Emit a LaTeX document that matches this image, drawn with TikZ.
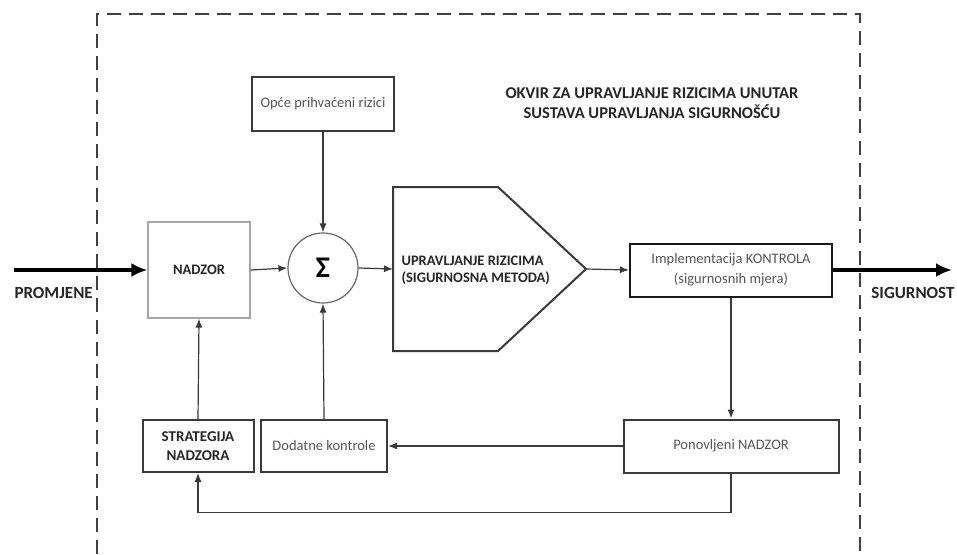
\documentclass[tikz,border=0pt]{standalone}
\usepackage{fontspec}
\setmainfont{Carlito}
\usetikzlibrary{arrows.meta}
\definecolor{linegray}{HTML}{3A3A3A}
\definecolor{textgray}{HTML}{555555}
\tikzset{
  blok/.style={draw=linegray, line width=2pt, rectangle, align=center, inner sep=0pt,
    font=\fontsize{14.5}{20}\selectfont, text=textgray},
  naslov/.style={font=\fontsize{14.5}{19}\selectfont\bfseries, text=black!85, align=center},
  veza/.style={draw=linegray, line width=1.2pt, -{Latex[length=9pt,width=7pt]}},
  tok/.style={draw=black, line width=3.5pt, -{Latex[length=16pt,width=14pt]}},
}
\begin{document}
\begin{tikzpicture}[x=1pt, y=-1pt]
   \useasboundingbox (0,0) rectangle (957,554);
   % okvir
   \draw[gray!50!black, line width=2.5pt, dash pattern=on 14pt off 8pt] (97,554) -- (97,14) -- (860,14) -- (860,554);
   \node[naslov, font=\fontsize{16.5}{20}\selectfont\bfseries] (okvir) at (652,103) {OKVIR ZA UPRAVLJANJE RIZICIMA UNUTAR\\SUSTAVA UPRAVLJANJA SIGURNOŠĆU};
   % blokovi
   \node[blok, draw=gray!70, line width=1.2pt, minimum width=102pt, minimum height=96pt, text=black!85, font=\fontsize{14.5}{20}\selectfont\bfseries] (nadzor) at (199,270) {NADZOR};
   \node[draw=gray!80!black, line width=1.2pt, circle, minimum size=70pt, inner sep=0pt, font=\fontsize{30}{30}\selectfont\bfseries] (sigma) at (323,268) {Σ};
   \node[blok, minimum width=142pt, minimum height=54pt] (opce) at (323,104) {Opće prihvaćeni rizici};
   \coordinate (uprL) at (393,269);
   \coordinate (uprT) at (586,269);
   \draw[linegray, line width=2pt, line join=miter] (393,187) -- (498,187) -- (uprT) -- (498,351) -- (393,351) -- cycle;
   \node[naslov, font=\fontsize{14.5}{17}\selectfont\bfseries, anchor=west, align=left] (upr) at (398,270) {UPRAVLJANJE RIZICIMA\\(SIGURNOSNA METODA)};
   \node[blok, draw=black!90, minimum width=202pt, minimum height=53pt] (impl) at (731,270) {Implementacija KONTROLA\\(sigurnosnih mjera)};
   \node[blok, minimum width=215pt, minimum height=53pt] (ponov) at (731,446) {Ponovljeni NADZOR};
   \node[blok, minimum width=126pt, minimum height=52pt] (dodatne) at (324,446) {Dodatne kontrole};
   \node[blok, minimum width=111pt, minimum height=52pt, text=black!85, font=\fontsize{15}{19}\selectfont\bfseries] (strat) at (198,446) {STRATEGIJA\\NADZORA};
   % ulaz i izlaz
   \coordinate (ulaz) at (14,270);
   \coordinate (izlaz) at (952,270);
   \draw[tok] (ulaz) -- (nadzor.west);
   \draw[tok] (impl.east) -- (izlaz);
   \node[naslov, font=\fontsize{17}{20}\selectfont\bfseries, anchor=west] (promjene) at (11,293) {PROMJENE};
   \node[naslov, font=\fontsize{17}{20}\selectfont\bfseries, anchor=east] (sigurnost) at (958,293) {SIGURNOST};
   % veze
   \draw[veza] (nadzor.east) -- (sigma.west);
   \draw[veza] (opce.south) -- (sigma.north);
   \draw[veza] (sigma.east) -- (uprL);
   \draw[veza] (uprT) -- (impl.west);
   \draw[veza] (impl.south) -- (ponov.north);
   \draw[veza] (ponov.west) -- (dodatne.east);
   \draw[veza] (dodatne.north) -- (sigma.south);
   \draw[veza] (strat.north) -- (nadzor.south);
   \draw[veza] (ponov.south) -- ++(0,39) -| (strat.south);
\end{tikzpicture}
\end{document}
